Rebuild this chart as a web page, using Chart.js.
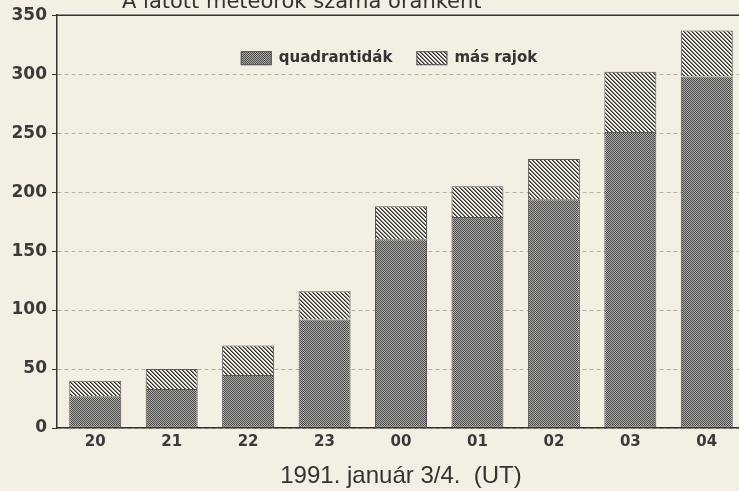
<!DOCTYPE html>
<html>
<head>
<meta charset="utf-8">
<script src="https://cdn.jsdelivr.net/npm/chart.js@4"></script>
<style>
  html, body { margin: 0; padding: 0; background: #f3efe3; overflow: hidden; }
  #wrap { position: relative; width: 745px; height: 491px; }
</style>
</head>
<body>
<div id="wrap"><canvas id="meteorChart" width="745" height="491"></canvas></div>
<script>
// hours (UT) and counts
const hours = ['20', '21', '22', '23', '00', '01', '02', '03', '04'];
const quadrantids = [27, 33, 45, 92, 160, 179, 194, 251, 298];
const otherShowers = [13, 17, 25, 24, 28, 26, 34, 51, 39];
const seriesLabels = ['quadrantidák', 'más rajok'];
const yMax = 350;
const yStep = 50;
const chartTitle = 'A látott meteorok száma óránként';
const axisTitle = '1991. január 3/4.  (UT)';

const paper = '#f3efe3';
const ink = '#333333';

function makePattern(size, draw) {
  const c = document.createElement('canvas');
  c.width = c.height = size;
  const g = c.getContext('2d');
  draw(g, size);
  return g.createPattern(c, 'repeat');
}

// dithered grey for quadrantids
const checker = makePattern(2, (g) => {
  g.fillStyle = '#b0aea7';
  g.fillRect(0, 0, 2, 2);
  g.fillStyle = '#4a4a48';
  g.fillRect(0, 0, 1, 1);
  g.fillRect(1, 1, 1, 1);
});

// "\" hatching for the other showers
const hatch = makePattern(4, (g, s) => {
  g.fillStyle = paper;
  g.fillRect(0, 0, s, s);
  for (let i = 0; i < s; i++) {
    g.fillStyle = '#2e2e2e';
    g.fillRect(i, i, 1, 1);
    g.fillStyle = '#7c7a76';
    g.fillRect((i + 1) % s, i, 1, 1);
  }
});

// title (cut off at the top of the scan) + top frame line + legend inside plot
const decorations = {
  id: 'decorations',
  afterDraw(chart) {
    const { ctx, chartArea } = chart;
    ctx.save();

    ctx.strokeStyle = ink;
    ctx.lineWidth = 1.5;
    ctx.beginPath();
    ctx.moveTo(chartArea.left, chartArea.top);
    ctx.lineTo(chartArea.right, chartArea.top);
    ctx.stroke();

    ctx.fillStyle = ink;
    ctx.font = '21px "DejaVu Sans"';
    ctx.textBaseline = 'alphabetic';
    ctx.textAlign = 'left';
    ctx.fillText(chartTitle, chartArea.left + 65, 8);

    ctx.font = 'bold 15px "DejaVu Sans"';
    ctx.textBaseline = 'middle';
    const boxW = 31, boxH = 14, gap = 7, spacing = 24;
    const items = chart.data.datasets.map(ds => ({
      text: ds.label, fill: ds.backgroundColor, w: ctx.measureText(ds.label).width
    }));
    const total = items.reduce((s, it) => s + boxW + gap + it.w, 0) + spacing * (items.length - 1);
    let x = (chartArea.left + chartArea.right) / 2 - 12 - total / 2;
    const y = chartArea.top + 36;
    items.forEach(it => {
      ctx.fillStyle = it.fill;
      ctx.fillRect(x, y, boxW, boxH);
      ctx.strokeStyle = '#555';
      ctx.lineWidth = 1;
      ctx.strokeRect(x + 0.5, y + 0.5, boxW - 1, boxH - 1);
      ctx.fillStyle = ink;
      ctx.fillText(it.text, x + boxW + gap, y + boxH / 2);
      x += boxW + gap + it.w + spacing;
    });
    ctx.restore();
  }
};

const ctx = document.getElementById('meteorChart').getContext('2d');
new Chart(ctx, {
  type: 'bar',
  data: {
    labels: hours,
    datasets: [
      {
        label: seriesLabels[0],
        data: quadrantids,
        backgroundColor: checker,
        borderColor: '#555',
        borderWidth: 1,
        borderSkipped: false,
      },
      {
        label: seriesLabels[1],
        data: otherShowers,
        backgroundColor: hatch,
        borderColor: '#555',
        borderWidth: 1,
        borderSkipped: 'bottom',
      },
    ],
  },
  options: {
    responsive: false,
    animation: false,
    layout: { padding: { top: 14, left: 0, right: 0, bottom: 0 } },
    datasets: { bar: { barPercentage: 0.68, categoryPercentage: 1 } },
    plugins: {
      legend: { display: false },
      tooltip: { enabled: false },
    },
    scales: {
      x: {
        stacked: true,
        offset: true,
        grid: { display: false, drawTicks: false, tickLength: 0 },
        border: { display: true, color: ink, width: 1.5 },
        ticks: { color: '#3a3a3a', font: { family: 'DejaVu Sans', size: 15, weight: 'bold' }, padding: 5 },
        title: {
          display: true,
          text: axisTitle,
          color: ink,
          font: { family: 'Liberation Sans', size: 24 },
          padding: { top: 0, bottom: 0 },
        },
        afterFit: (scale) => { scale.height = 63; },
      },
      y: {
        stacked: true,
        min: 0,
        max: yMax,
        ticks: {
          stepSize: yStep,
          color: '#3a3a3a',
          font: { family: 'DejaVu Sans', size: 17, weight: 'bold' },
          padding: 5,
        },
        grid: {
          color: '#b3b0a6',
          tickColor: ink,
          tickLength: 5,
          tickBorderDash: [],
        },
        border: { display: true, color: ink, width: 1.5, dash: [4, 3] },
        afterFit: (scale) => { scale.width = 57; },
      },
    },
  },
  plugins: [decorations],
});
</script>
</body>
</html>
